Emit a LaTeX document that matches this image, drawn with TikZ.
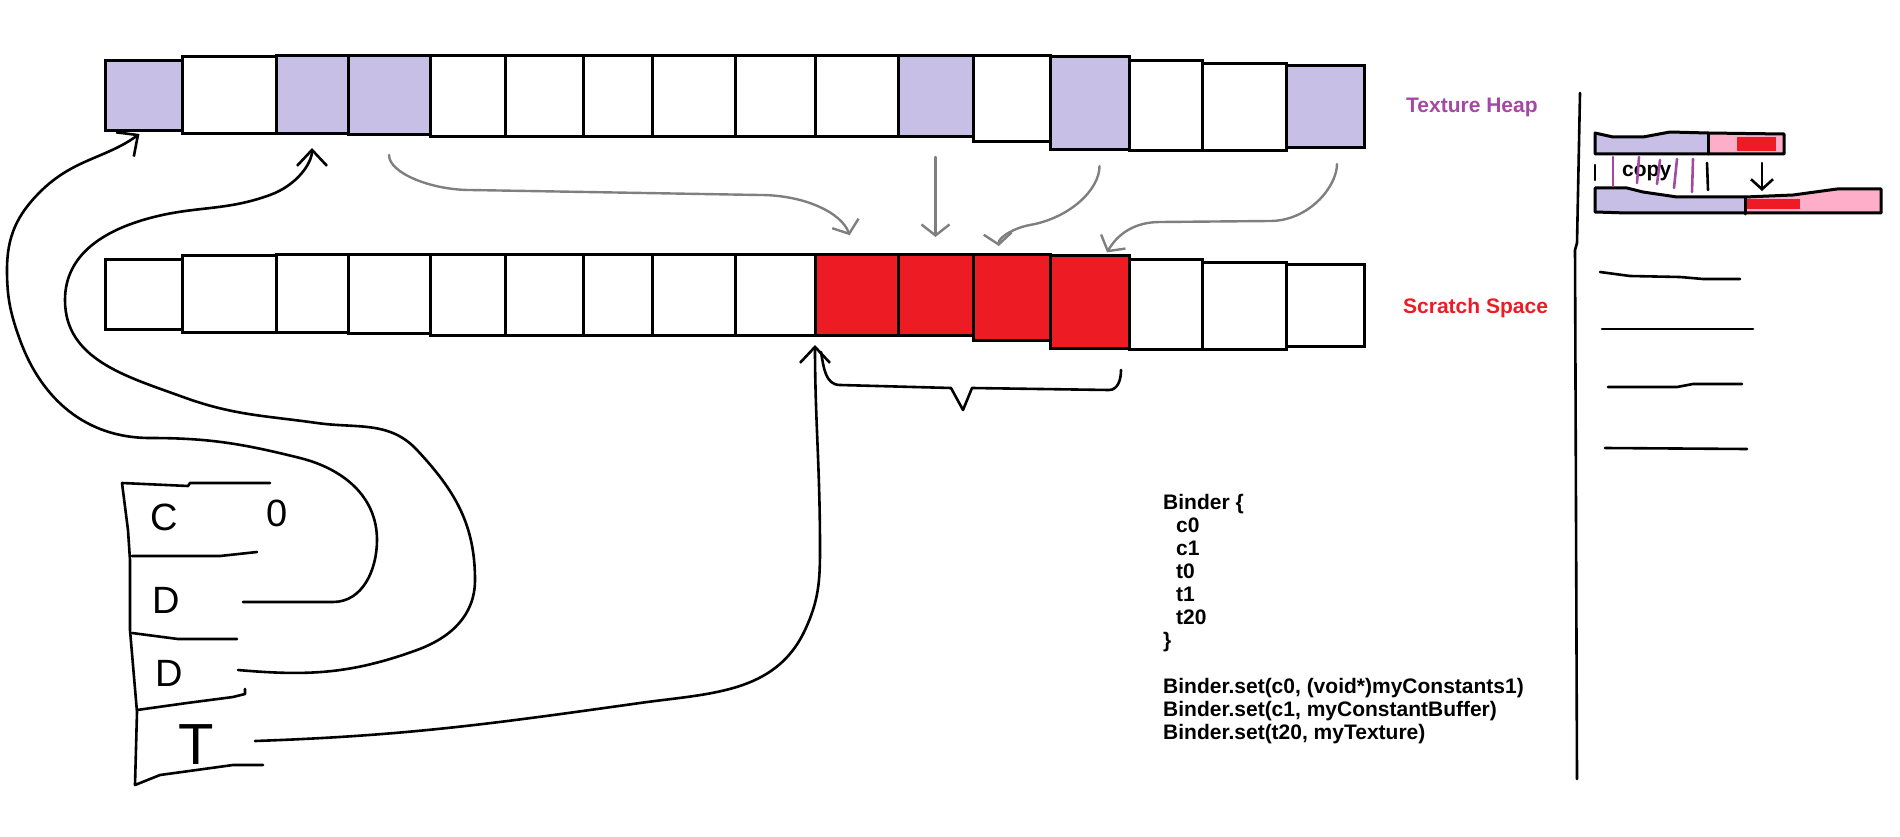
\documentclass[tikz,border=0pt]{standalone}
\usepackage{fontspec}
\setmainfont{Liberation Sans}
\usetikzlibrary{arrows.meta}
\definecolor{heaplav}{HTML}{C8BFE7}
\definecolor{scratchred}{HTML}{ED1C24}
\definecolor{heappurple}{HTML}{A349A4}
\definecolor{copypink}{HTML}{FFAEC9}
\definecolor{arrowgrey}{HTML}{7F7F7F}

\begin{document}
\begin{tikzpicture}[
    x=1pt, y=-1pt,
    memcell/.style={draw, line width=3pt, inner sep=0pt, outer sep=0pt, anchor=north west},
    inkline/.style={line width=2.6pt, line cap=round, line join=round},
    inkedge/.style={inkline, -{Straight Barb[length=16pt,width=30pt]}},
    greyedge/.style={color=arrowgrey, line width=2.4pt, line cap=round, -{Straight Barb[length=11pt,width=28pt]}},
    barlabel/.style={font=\bfseries\fontsize{21pt}{23pt}\selectfont, inner sep=0pt, anchor=base west},
    handletter/.style={font=\fontsize{38pt}{38pt}\selectfont, inner sep=0pt}
]
\useasboundingbox (0,0) rectangle (1900,837);

\foreach \l/\r/\t/\b/\hc/\sc [count=\i] in {
    105/182/61/131/heaplav/white, 182/276/57/134/white/white, 276/348/56/134/heaplav/white,
    348/430/56/135/heaplav/white, 430/505/56/137/white/white, 505/583/56/137/white/white,
    583/652/56/137/white/white, 652/735/56/137/white/white, 735/815/56/137/white/white,
    815/898/56/137/white/scratchred, 898/973/56/137/heaplav/scratchred, 973/1050/56/142/white/scratchred,
    1050/1129/57/150/heaplav/scratchred, 1129/1202/61/151/white/white, 1202/1286/64/151/white/white,
    1286/1364/66/148/heaplav/white}
{
    \node[memcell, fill=\hc, minimum width={(\r-\l)*1pt}, minimum height={(\b-\t)*1pt}] (h\i) at (\l,\t) {};
    \node[memcell, fill=\sc, minimum width={(\r-\l)*1pt}, minimum height={(\b-\t)*1pt}] (s\i) at (\l,{\t+198}) {};
}

\node[barlabel, text=heappurple] (heaplabel) at (1406,113) {Texture Heap};
\node[barlabel, text=scratchred] (scratchlabel) at (1403,313) {Scratch Space};

\draw[greyedge, shorten <=20pt, shorten >=20pt] (h4.south) to[out=-90,in=180] (470,190) -- (760,195) to[out=0,in=110] (s10.north);
\draw[greyedge, shorten <=20pt, shorten >=17pt] (h11.south) -- (s11.north);
\draw[greyedge, shorten <=16pt, shorten >=8pt] ([xshift=10pt]h13.south) to[out=-90,in=10] (1030,225) to[out=190,in=95] ([xshift=-12pt]s12.north);
\draw[greyedge, shorten <=16pt, shorten >=3pt] ([xshift=12pt]h16.south) to[out=-90,in=0] (1270,221) -- (1160,222) to[out=180,in=60] ([xshift=16pt]s13.north);

\draw[inkline] (270,483) -- (190,483) -- (188,486) -- (122,483) -- (128,530) -- (130,560) -- (130,630) -- (137,712) -- (135,785) -- (160,775) -- (233,765) -- (263,765);
\draw[inkline] (132,556) -- (220,556) -- (257,552);
\draw[inkline] (132,633) -- (178,639) -- (237,639);
\draw[inkline] (137,710) -- (187,703) -- (233,697) -- (245,694) -- (245,689);

\node[handletter] (letC) at (164,517) {C};
\node[handletter] (letzero) at (277,513) {0};
\node[handletter] (letD) at (166,600) {D};
\node[handletter] (letDD) at (169,673) {D};
\node[handletter, font=\fontsize{58pt}{58pt}\selectfont] (letT) at (196,745) {T};

\coordinate (dtail) at (243,602);
\coordinate (ddtail) at (238,670);
\coordinate (ttail) at (255,741);

\draw[inkedge, shorten >=5pt] (dtail) -- (333,602) to[out=0,in=-90] (377,540) to[out=90,in=-14] (300,458) to[out=166,in=0] (150,438) to[out=180,in=-70] (20,340) to[out=110,in=-90] (7,270) to[out=90,in=-135] (40,192) to[out=45,in=-144] (h1.south);
\draw[inkedge, shorten >=14pt] (ddtail) to[out=-5,in=-160] (417,650) to[out=20,in=-90] (475,580) to[out=90,in=-47] (417,450) to[out=133,in=-8] (317,423) to[out=172,in=-20] (183,397) to[out=160,in=-90] (65,300) to[out=90,in=-165] (150,218) to[out=15,in=-160] (270,195) to[out=20,in=-90] (h3.south);
\draw[inkedge, shorten >=10pt] (ttail) to[out=2,in=-172] (640,703) to[out=8,in=-115] (805,630) to[out=65,in=-90] (820,550) to[out=90,in=-90] (s10.south west);

\draw[inkline] (821,352) to[out=-80,in=180] (840,385) -- (951,388) -- (963,410) -- (972,388) -- (1109,390) to[out=0,in=-90] (1121,370);

\node[font=\bfseries\fontsize{21pt}{23pt}\selectfont, anchor=north west, align=left, inner sep=0pt] (bindercode) at (1163,494)
    {Binder \{\\\hspace*{13pt}c0\\\hspace*{13pt}c1\\\hspace*{13pt}t0\\\hspace*{13pt}t1\\\hspace*{13pt}t20\\\}\\[23pt]Binder.set(c0, (void*)myConstants1)\\Binder.set(c1, myConstantBuffer)\\Binder.set(t20, myTexture)};

\draw[inkline] (1580,93) -- (1577,243) -- (1575,250) -- (1577,779);

\fill[heaplav] (1595,133) -- (1613,137) -- (1643,137) -- (1670,132) -- (1708,133) -- (1708,154) -- (1595,154) -- cycle;
\fill[copypink] (1708,133) -- (1784,134) -- (1784,154) -- (1708,154) -- cycle;
\fill[scratchred] (1737,137) rectangle (1776,151);
\draw[inkline, line width=3pt] (1595,133) -- (1613,137) -- (1643,137) -- (1670,132) -- (1708,133) -- (1784,134) -- (1784,154) -- (1595,154) -- cycle;
\draw[inkline, line width=3pt] (1708,133) -- (1708,154);

\fill[heaplav] (1595,188) -- (1627,188) -- (1643,192) -- (1677,197) -- (1745,197) -- (1745,213) -- (1595,212) -- cycle;
\fill[copypink] (1745,197) -- (1793,195) -- (1837,189) -- (1881,189) -- (1881,213) -- (1745,213) -- cycle;
\fill[scratchred] (1747,199) rectangle (1800,209);
\draw[inkline, line width=3pt] (1595,188) -- (1627,188) -- (1643,192) -- (1677,197) -- (1745,197) -- (1793,195) -- (1837,189) -- (1881,189) -- (1881,213) -- (1627,213) -- (1595,212) -- cycle;
\draw[inkline, line width=3pt] (1745,197) -- (1745,214);

\node[barlabel] (copylabel) at (1622,177) {copy};
\draw[inkline, heappurple] (1613,157) -- (1613,186);
\draw[inkline, heappurple] (1639,157) -- (1637,183);
\draw[inkline, heappurple] (1660,160) -- (1657,184);
\draw[inkline, heappurple] (1677,159) -- (1674,188);
\draw[inkline, heappurple] (1693,159) -- (1692,192);
\draw[inkline] (1595,165) -- (1595,180);
\draw[inkline] (1707,163) -- (1708,190);
\coordinate (copyfrom) at (1762,163);
\coordinate (copyto) at (1762,191);
\draw[inkline, -{Straight Barb[length=10pt,width=22pt]}] (copyfrom) -- (copyto);

\draw[inkline] (1600,272) -- (1630,276) -- (1680,277) -- (1703,279) -- (1740,279);
\draw[inkline] (1602,329) -- (1753,329);
\draw[inkline] (1608,387) -- (1677,387) -- (1693,384) -- (1742,384);
\draw[inkline] (1605,448) -- (1747,449);
\end{tikzpicture}
\end{document}
